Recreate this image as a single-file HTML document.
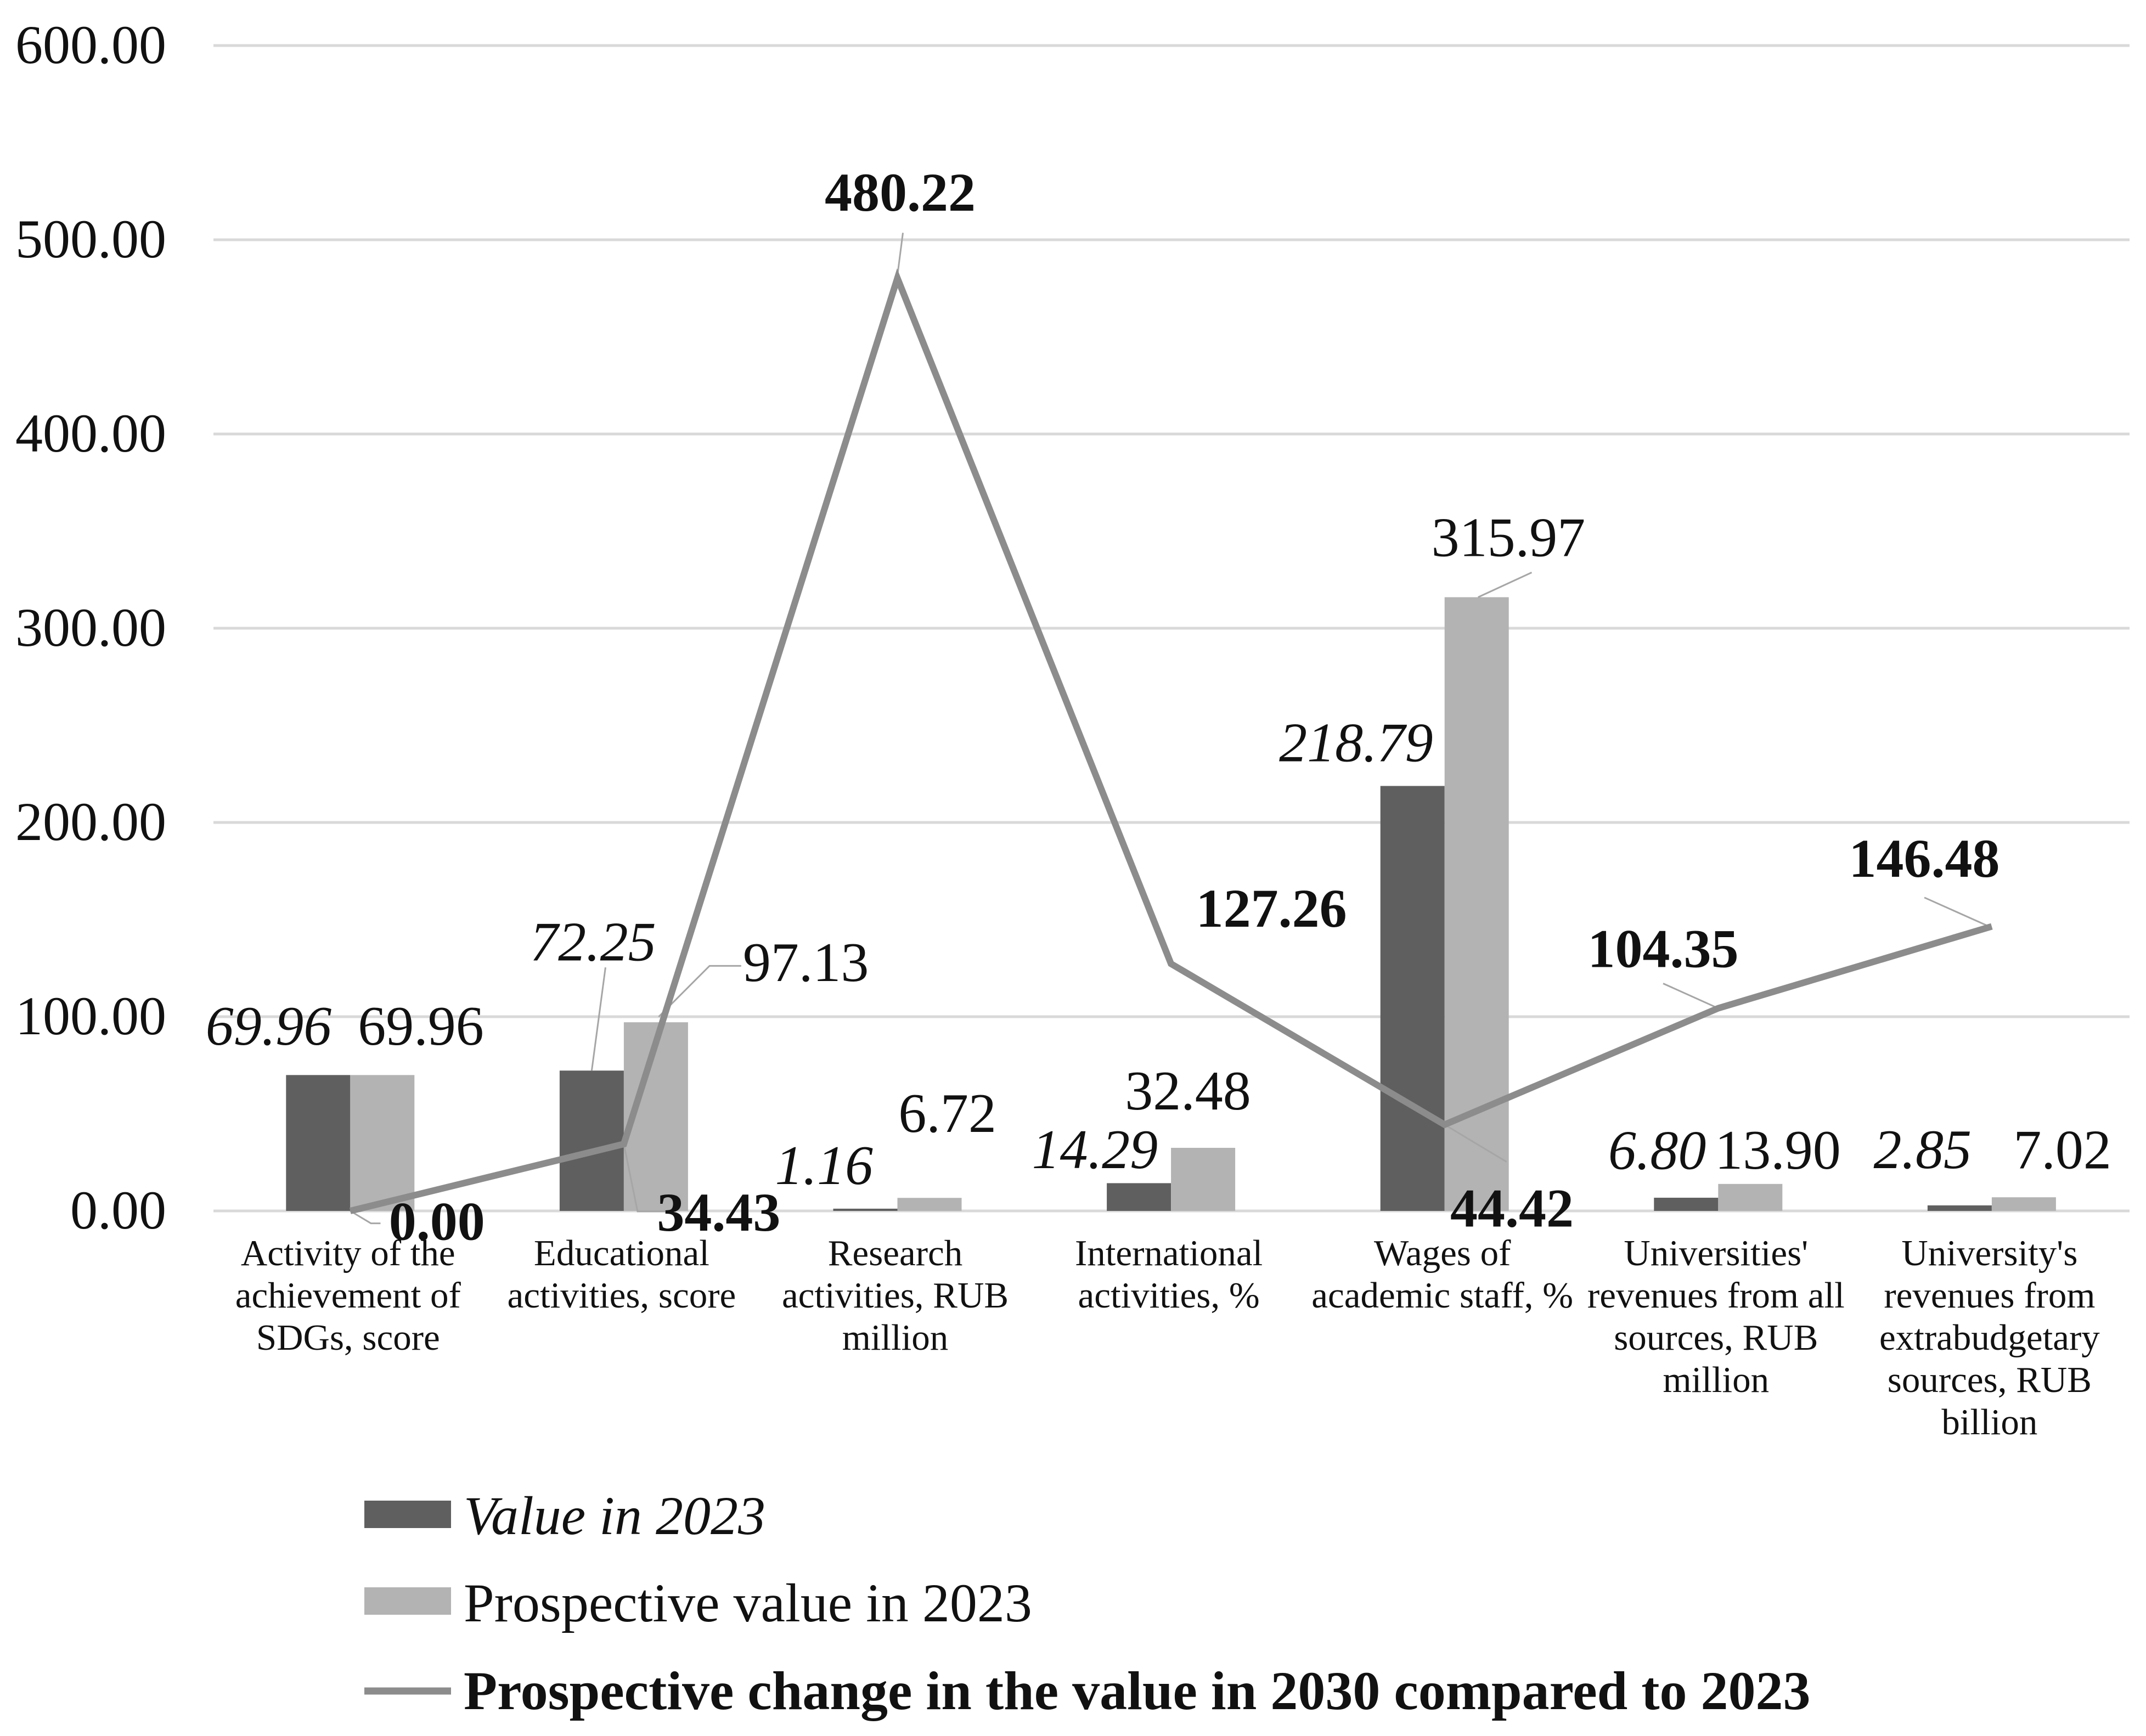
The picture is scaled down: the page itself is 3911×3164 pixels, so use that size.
<!DOCTYPE html>
<html><head><meta charset="utf-8">
<style>
html,body{margin:0;padding:0;background:#fff;}
svg{display:block;font-family:"Liberation Serif","Times New Roman",serif;}
</style></head>
<body>
<svg id="chart" width="3911" height="3164" viewBox="0 0 3911 3164" xmlns="http://www.w3.org/2000/svg">
<g id="grid"></g>
<g id="yticks"></g>
<g id="bars"></g>
<g id="leaders"></g>
<g id="line"></g>
<g id="labels"></g>
<g id="cats"></g>
<g id="legend">
  <g>
    <rect x="664" y="2735" width="158" height="50" fill="#5f5f5f"/>
    <text x="845" y="2796" font-size="100" font-style="italic" fill="#111">Value in 2023</text>
  </g>
  <g>
    <rect x="664" y="2893" width="158" height="50" fill="#b3b3b3"/>
    <text x="845" y="2955" font-size="100" fill="#111">Prospective value in 2023</text>
  </g>
  <g>
    <line x1="664" y1="3082" x2="822" y2="3082" stroke="#8c8c8c" stroke-width="13"/>
    <text x="845" y="3115" font-size="100" font-weight="bold" fill="#111">Prospective change in the value in 2030 compared to 2023</text>
  </g>
</g>
</svg>
<script>
const categories = [
  ["Activity of the","achievement of","SDGs, score"],
  ["Educational","activities, score"],
  ["Research","activities, RUB","million"],
  ["International","activities, %"],
  ["Wages of","academic staff, %"],
  ["Universities'","revenues from all","sources, RUB","million"],
  ["University's","revenues from","extrabudgetary","sources, RUB","billion"]
];
const value2023 = [69.96, 72.25, 1.16, 14.29, 218.79, 6.80, 2.85];
const prospective2023 = [69.96, 97.13, 6.72, 32.48, 315.97, 13.90, 7.02];
const change2030 = [0.00, 34.43, 480.22, 127.26, 44.42, 104.35, 146.48];
const yTicks = [0, 100, 200, 300, 400, 500, 600];

const NS = "http://www.w3.org/2000/svg";
const X0 = 389, CW = 498.6, Y0 = 2207, PER = 3.54, BW = 117, S = 2.507;
function yScale(v){ return Y0 - v*PER; }
function xCenter(i){ return X0 + CW*(i+0.5); }
function mk(tag, attrs, parent){ const e=document.createElementNS(NS,tag); for(const k in attrs) e.setAttribute(k,attrs[k]); parent.appendChild(e); return e; }
const fmt = v => v.toFixed(2);

const grid=document.getElementById('grid'), yt=document.getElementById('yticks');
yTicks.forEach(t=>{
  const g=mk('line',{x1:X0,x2:3881,y1:yScale(t),y2:yScale(t),stroke:'#d9d9d9','stroke-width':5},grid);
  
  
  const tx=mk('text',{x:303,y:yScale(t)+32,'text-anchor':'end','font-size':100,fill:'#111'},yt);
  tx.textContent=fmt(t);
  
  
});

const bars=document.getElementById('bars');
value2023.forEach((v,i)=>{
  const r=mk('rect',{x:xCenter(i)-BW,y:yScale(v),width:BW,height:Y0-yScale(v),fill:'#5f5f5f'},bars);
  
  
});
prospective2023.forEach((v,i)=>{
  const r=mk('rect',{x:xCenter(i),y:yScale(v),width:BW,height:Y0-yScale(v),fill:'#b3b3b3'},bars);
  
  
});

const lineG=document.getElementById('line');
const pts=change2030.map((v,i)=>xCenter(i)+','+yScale(v)).join(' ');
const pl=mk('polyline',{points:pts,fill:'none',stroke:'#8c8c8c','stroke-width':12,'stroke-linejoin':'miter'},lineG);



const darkOff=[[-36,-22],[1,-80],[-30,-18],[-32,-11],[-41,-18],[-21,-21],[-27,-27]];
const lightOff=[[28,-22],[109,-30],[13,-48],[-11,-28],[23,-30],[20,-11],[28,-21]];
const lineOff=[[63,21],[69,63],[2,-49],[73,-27],[49,74],[-40,-30],[-49,-36]];
const labels=document.getElementById('labels');
function lab(x,y,txt,style,name){
  const a={x:x,y:y,'text-anchor':'middle','font-size':102,fill:'#111'};
  if(style==='i') a['font-style']='italic';
  if(style==='b'){a['font-weight']='bold';a['font-size']=100;}
  const t=mk('text',a,labels); t.textContent=txt;
  
  
}
value2023.forEach((v,i)=>lab(xCenter(i)-BW/2+darkOff[i][0]*S, yScale(v)+darkOff[i][1]*S, fmt(v),'i','value-2023-label'));
prospective2023.forEach((v,i)=>lab(xCenter(i)+BW/2+lightOff[i][0]*S, yScale(v)+lightOff[i][1]*S, fmt(v),'r','prospective-2023-label'));
change2030.forEach((v,i)=>lab(xCenter(i)+lineOff[i][0]*S, yScale(v)+lineOff[i][1]*S, fmt(v),'b','change-2030-label'));

const leaders=document.getElementById('leaders');
function leader(ax,ay,pairs,name){
  const p=pairs.map(q=>(ax+q[0]*S)+','+(ay+q[1]*S)).join(' ');
  const l=mk('polyline',{points:p,fill:'none',stroke:'#a6a6a6','stroke-width':3},leaders);
  
  
}
leader(xCenter(1)-BW/2,yScale(value2023[1]),[[0,0],[10,-75]],'leader-72');
leader(xCenter(1)+BW/2,yScale(prospective2023[1]),[[2,-4],[39,-41],[62,-41]],'leader-97');
leader(xCenter(0),yScale(change2030[0]),[[0,0],[15,9],[22,9]],'leader-0');
leader(xCenter(1),yScale(change2030[1]),[[0,0],[10,49],[30,49]],'leader-34');
leader(xCenter(2),yScale(change2030[2]),[[0,-2],[4,-33]],'leader-480');
leader(xCenter(4)+BW/2,yScale(prospective2023[4]),[[1,0],[40,-18]],'leader-315');
leader(xCenter(4),yScale(change2030[4]),[[0,0],[45,27]],'leader-44');
leader(xCenter(5),yScale(change2030[5]),[[-40,-18],[0,0]],'leader-104');
leader(xCenter(6),yScale(change2030[6]),[[-49,-21],[-2,0]],'leader-146');

const cats=document.getElementById('cats');
categories.forEach((lines,i)=>{
  const t=mk('text',{x:xCenter(i)-4,y:2306,'text-anchor':'middle','font-size':67,fill:'#111'},cats);
  
  
  lines.forEach((ln,j)=>{ const s=mk('tspan',{x:xCenter(i)-4,dy:j===0?0:77},t); s.textContent=ln; });
});
</script>
</body></html>
